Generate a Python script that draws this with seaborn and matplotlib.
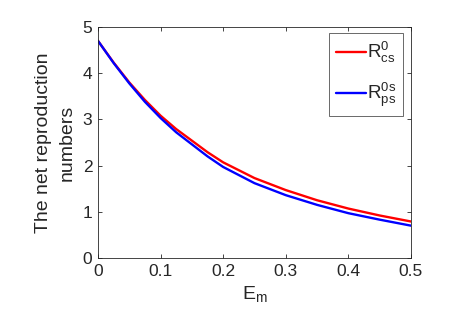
import numpy as np
import pandas as pd
import matplotlib
matplotlib.use('Agg')
import matplotlib.pyplot as plt
import seaborn as sns

# ── Data ──────────────────────────────────────────────────────────────────────
em = [0.0, 0.025, 0.05, 0.075, 0.1, 0.125, 0.15, 0.175, 0.2, 0.25, 0.3, 0.35,
      0.4, 0.45, 0.5]
r_cs = [4.70, 4.23, 3.80, 3.42, 3.08, 2.79, 2.54, 2.29, 2.07, 1.73, 1.47,
        1.25, 1.07, 0.92, 0.79]
r_ps = [4.70, 4.22, 3.78, 3.38, 3.03, 2.72, 2.46, 2.20, 1.97, 1.62, 1.36,
        1.15, 0.97, 0.83, 0.70]
series_labels = [r'$\mathregular{R^{0}_{cs}}$', r'$\mathregular{R^{0s}_{ps}}$']
line_colors = ['#FF0000', '#0000FF']
x_ticks = [0, 0.1, 0.2, 0.3, 0.4, 0.5]
x_tick_labels = ['0', '0.1', '0.2', '0.3', '0.4', '0.5']
y_ticks = [0, 1, 2, 3, 4, 5]

df = pd.DataFrame({
    'Em': em * 2,
    'R': r_cs + r_ps,
    'series': [series_labels[0]] * len(em) + [series_labels[1]] * len(em),
})

# ── Style ─────────────────────────────────────────────────────────────────────
sns.set_style('white')
AX_COL = '#262626'
plt.rcParams.update({
    'font.family': ['Liberation Sans', 'DejaVu Sans'],
    'mathtext.fontset': 'custom',
    'mathtext.rm': 'Liberation Sans',
    'mathtext.it': 'Liberation Sans',
    'axes.edgecolor': AX_COL, 'axes.linewidth': 0.6,
    'xtick.color': AX_COL, 'ytick.color': AX_COL,
    'text.color': AX_COL, 'axes.labelcolor': AX_COL,
})

fig = plt.figure(figsize=(4.57, 3.24), dpi=100)
ax = fig.add_axes([0.2144, 0.2037, 0.6849, 0.7130])

sns.lineplot(data=df, x='Em', y='R', hue='series', palette=line_colors,
             linewidth=1.7, ax=ax, sort=False)

ax.set_xlim(0, 0.5)
ax.set_ylim(0, 5)
ax.set_xticks(x_ticks)
ax.set_xticklabels(x_tick_labels)
ax.set_yticks(y_ticks)
ax.tick_params(direction='in', length=3, width=0.6, labelsize=12.5,
               top=True, right=True, bottom=True, left=True, pad=4)
for s in ax.spines.values():
    s.set_visible(True)
    s.set_color(AX_COL)

ax.set_xlabel(r'$\mathregular{E_m}$', fontsize=14, labelpad=4)
ax.set_ylabel('The net reproduction\nnumbers', fontsize=14, labelpad=5,
              linespacing=1.55)

leg = ax.legend(loc='upper right', bbox_to_anchor=(0.975, 0.972),
                borderaxespad=0, fontsize=13.5, frameon=True, fancybox=False,
                handlelength=1.6, handletextpad=0.1, labelspacing=0.85,
                borderpad=0.35, title=None)
leg.get_frame().set_edgecolor(AX_COL)
leg.get_frame().set_linewidth(0.6)
for line in leg.get_lines():
    line.set_linewidth(1.7)

fig.savefig('out.png', dpi=100, facecolor='white')
